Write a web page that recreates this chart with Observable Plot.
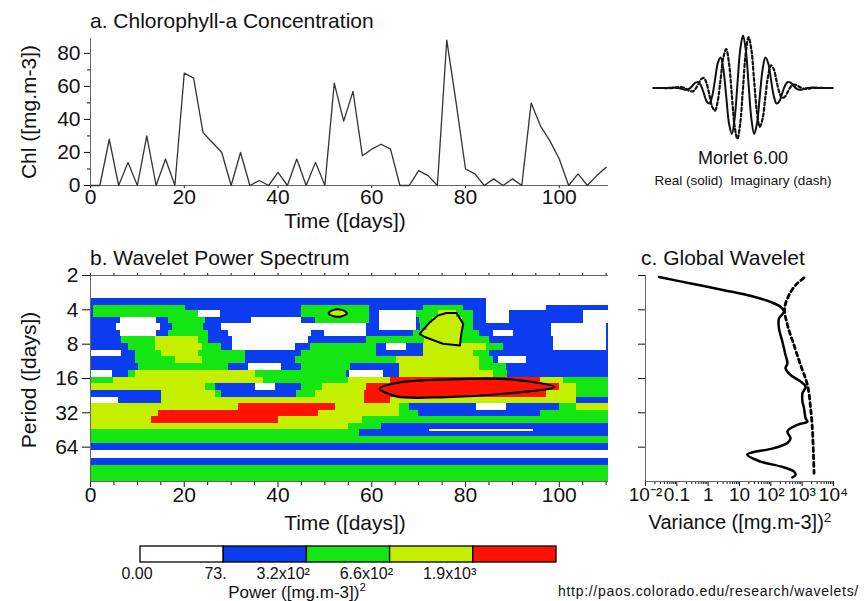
<!DOCTYPE html>
<html><head><meta charset="utf-8">
<script src="https://cdn.jsdelivr.net/npm/d3@7"></script>
<script src="https://cdn.jsdelivr.net/npm/@observablehq/plot@0.6"></script>
<style>
html,body{margin:0;padding:0;background:#fff;}
#fig{position:relative;width:868px;height:601px;overflow:hidden;background:#fff;font-family:"Liberation Sans",Arial,Helvetica,sans-serif;color:#111;}
#fig svg{position:absolute;overflow:visible;}
.t{position:absolute;white-space:nowrap;line-height:1;}
.t sup{font-size:0.68em;vertical-align:0.55em;line-height:0;}
</style></head><body><div id="fig"></div>
<script>
// ---------- Panel a: chlorophyll time series ----------
const days = [0,2,4,6,8,10,12,14,16,18,20,22,24,26,28,30,32,34,36,38,40,42,44,46,48,50,52,54,56,58,60,62,64,66,68,70,72,74,76,78,80,82,84,86,88,90,92,94,96,98,100,102,104,106,108,110];
const chl = [0,0,28,0,14,0,30,0,16,0,68,65,32,26,20,0,20,0,3,0,8,0,16,0,14,0,62,39,57,18,22,25,22,0,0,9,6,0,88,50,10,7,0,4,0,4,0,50,36,27,16,0,7,0,6,11];
const timeTicks = [0,20,40,60,80,100];
const timeMinor = [5,10,15,25,30,35,45,50,55,65,70,75,85,90,95,105,110];
const chlTicks = [0,20,40,60,80];
const chlMinor = [10,30,50,70];

// ---------- Morlet wavelet ----------
const eta = [-4,-3.875,-3.75,-3.625,-3.5,-3.375,-3.25,-3.125,-3,-2.875,-2.75,-2.625,-2.5,-2.375,-2.25,-2.125,-2,-1.875,-1.75,-1.625,-1.5,-1.375,-1.25,-1.125,-1,-0.875,-0.75,-0.625,-0.5,-0.375,-0.25,-0.125,0,0.125,0.25,0.375,0.5,0.625,0.75,0.875,1,1.125,1.25,1.375,1.5,1.625,1.75,1.875,2,2.125,2.25,2.375,2.5,2.625,2.75,2.875,3,3.125,3.25,3.375,3.5,3.625,3.75,3.875,4];
const morletReal = [0,0,0,0,-0.001,0,0.003,0.006,0.005,0,-0.012,-0.024,-0.025,-0.005,0.036,0.077,0.086,0.033,-0.077,-0.190,-0.222,-0.113,0.119,0.356,0.437,0.262,-0.120,-0.507,-0.656,-0.440,0.051,0.545,0.751,0.545,0.051,-0.440,-0.656,-0.507,-0.120,0.262,0.437,0.356,0.119,-0.113,-0.222,-0.190,-0.077,0.033,0.086,0.077,0.036,-0.005,-0.025,-0.024,-0.012,0,0.005,0.006,0.003,0,-0.001,0,0,0,0];
const morletImag = [0,0,0,0,-0.001,-0.002,-0.002,0.001,0.006,0.012,0.012,0.001,-0.021,-0.044,-0.048,-0.014,0.055,0.125,0.143,0.064,-0.100,-0.269,-0.323,-0.180,0.127,0.440,0.554,0.353,-0.094,-0.545,-0.726,-0.508,0,0.508,0.726,0.545,0.094,-0.353,-0.554,-0.440,-0.127,0.180,0.323,0.269,0.100,-0.064,-0.143,-0.125,-0.055,0.014,0.048,0.044,0.021,-0.001,-0.012,-0.012,-0.006,-0.001,0.002,0.002,0.001,0,0,0,0];

// ---------- Panel b: wavelet power spectrum (banded levels) ----------
// period edges of each row (days); each run string: level letter + end time (days)
const specEdges = [2,3.20,3.66,4.06,4.63,5.31,6.06,6.92,7.94,9.06,10.34,11.88,13.55,15.56,17.75,20.25,23.26,26.54,30.27,34.78,39.67,45.25,46.36,51.98,59.30,68.12,80.45,91.77,128];
const specRuns = [
  "W111",
  "B84.5 W111",
  "B0.7 G20.2 B45.1 G59.6 B71 G79.5 B84.5 W97.3 B111",
  "B0.7 G23.1 W27.7 B45.1 G51.2 Y54.4 G59.6 B61.7 W69.5 G74.2 Y78.1 G81.6 B84.5 W89.4 B105.1 W110.4 B111",
  "B6.5 W14 B16.7 G24.5 B34.4 W45.1 B48 G59.6 B61.7 W69.5 B70.2 G73 Y79.3 G81.6 B84.5 W89.4 B105.1 W110.4 B111",
  "B5.6 W14.9 B17.4 G24.1 B28 W58.9 B61.7 W69.5 B70.5 G71.8 Y79.4 G81.6 B98.3 W110 B111",
  "B6.5 W14 B16.7 G25.2 B29.5 W47.2 B50 W58.9 B69 G70.8 Y79.2 G83 B85.9 W90.2 B98.3 W110 B111",
  "B6.7 G13.8 Y23.1 G25.2 B30.2 W46.5 B58.9 G71.3 Y79 G85.2 B98.7 W110 B111",
  "B8.1 G13.8 Y23.8 G28 B30.2 W43.7 B47 G61 B63.1 W67.4 B71 Y84.5 G88 B98.7 W110 B111",
  "W6.7 B9.6 G15.2 Y23.1 G33 B45.1 G61 B71 Y81.6 G85.2 B111",
  "B9.6 G18.1 Y23.8 G33 B43.7 G65.3 Y83 G85.9 B87 W93 B111",
  "B10.3 G29.5 B33.7 W40.8 B45.1 G55.5 B66 Y83 G88.7 B111",
  "W4.6 B8.1 G9.6 Y35.1 G54.6 B55.3 W62.4 B66 Y86 G89 B111",
  "G5 Y37 G55 Y64 R96 Y101 G111",
  "Y24.5 G26.6 B35.1 W39.4 B45.1 G49.4 Y58.9 R100.1 Y103.7 G111",
  "B15.2 Y26.6 G28 B44 G48 Y58.5 R97.3 Y103.7 G111",
  "W6 B15.2 Y58.5 R64 Y103.7 B111",
  "Y31.6 R52.2 Y66 G68 B82.3 W88.7 B100 G103.7 Y111",
  "Y14.5 R48.7 Y66 G70 B96 G111",
  "Y13 R40 Y58 G111",
  "Y55 G62 B111",
  "G57.4 B72.4 W94.4 B111",
  "G57.4 B111",
  "G111",
  "B111",
  "W111",
  "B111",
  "G111"
];
const levelCodes = "WBGYR";
const levelColors = ["#ffffff","#0b3cf0","#14e614","#c4f000","#ff1200"];
const periodTicks = [2,4,8,16,32,64];

// significance contours (time in days, period in days)
const contourSmallT = [50.8,51.9,53.6,54.7,53.6,51.9];
const contourSmallP = [4.29,4.0,4.0,4.29,4.56,4.56];
const contourMidT = [70.2,72.4,74.2,75.9,78.1,79.5,79.1,78.8,75.2,71.3];
const contourMidP = [6.50,5.13,4.47,4.26,4.26,5.31,6.50,8.22,7.94,6.92];
const contourRedT = [61.7,65.3,75.9,90.2,99.0,90.2,75.9,65.3];
const contourRedP = [19.56,17.51,16.34,16.34,19.03,21.41,23.26,22.94];

// ---------- Panel c: global wavelet ----------
const globalPeriod = [2.06,2.35,2.69,3.01,3.41,3.76,4.17,4.76,5.82,7.62,9.99,11.8,13.0,14.9,17.0,18.9,21.6,25.5,29.2,35.8,38.1,40.8,46.5,53.4,58.9,65.3,74.5,85.6,94.4,104.7,112.2,117.8];
const globalPower = [0.027,0.28,3.2,22,98,204,263,182,182,234,295,339,295,427,891,1288,1023,1023,1148,1288,1479,708,339,427,339,126,17.8,46.8,204,550,617,490];
const sigPeriod = [2.10,2.43,2.97,3.89,5.43,8.17,12.2,18.3,29.2,46.5,74.5,108.4];
const sigPower = [1148,617,380,275,339,550,891,1479,1862,2138,2291,2399];
const varTicks = [0.01,0.1,1,10,100,1000,10000];
const varTickLabels = ["10\u207B\u00B2","0.1","1","10","10\u00B2","10\u00B3","10\u2074"];

// ---------- Colour bar ----------
const powerTickLabels = ["0.00","73.","3.2x10\u00B2","6.6x10\u00B2","1.9x10\u00B3"];
const powerLevels = [0,1,2,3,4];

// ================= drawing =================
const FONT = '"Liberation Sans", Arial, Helvetica, sans-serif';
const fig = document.getElementById("fig");
const baseStyle = {fontFamily: FONT, fontSize: "21px", background: "transparent", color: "#111", overflow: "visible"};
function put(svg, left, top) { svg.style.left = left + "px"; svg.style.top = top + "px"; fig.appendChild(svg); }
function txt(html, x, y, size, anchor = "start", rot = 0, extra = "") {
  const d = document.createElement("div");
  d.className = "t"; d.innerHTML = html;
  d.style.fontSize = size + "px"; d.style.left = x + "px"; d.style.top = y + "px";
  if (extra) d.style.cssText += extra;
  const tx = anchor === "middle" ? "-50%" : anchor === "end" ? "-100%" : "0";
  d.style.transform = `translate(${tx},-50%)` + (rot ? ` rotate(${rot}deg)` : "");
  fig.appendChild(d);
}
const blank = () => "";

// Panel a
const chlData = days.map((t, i) => ({t, v: chl[i]}));
put(Plot.plot({
  width: 620, height: 230, marginLeft: 90, marginRight: 12, marginTop: 38, marginBottom: 45,
  style: baseStyle,
  x: {domain: [0, 110.5]},
  y: {domain: [0, 89]},
  marks: [
    Plot.axisX({ticks: timeTicks, tickSize: 3, tickPadding: 1, label: null}),
    Plot.axisY({ticks: chlTicks, tickSize: 6, tickPadding: 4, label: null}),
    Plot.axisY({ticks: chlMinor, tickSize: 3, tickFormat: blank, label: null}),
    Plot.ruleX([0], {stroke: "#666"}),
    Plot.ruleY([0], {stroke: "#666"}),
    Plot.line(chlData, {x: "t", y: "v", stroke: "#333", strokeWidth: 1.3})
  ]
}), 0, 0);

// Morlet inset
const morletData = eta.map((e, i) => ({e, re: morletReal[i], im: morletImag[i]}));
put(Plot.plot({
  width: 248, height: 150, marginLeft: 33, marginRight: 36, marginTop: 28, marginBottom: 3,
  style: baseStyle,
  x: {domain: [-4, 4], axis: null},
  y: {domain: [-0.85, 0.85], axis: null},
  marks: [
    Plot.line(morletData, {x: "e", y: "re", stroke: "#111", strokeWidth: 2, curve: "catmull-rom"}),
    Plot.line(morletData, {x: "e", y: "im", stroke: "#111", strokeWidth: 2.2, strokeDasharray: "3,2.5", curve: "catmull-rom"})
  ]
}), 620, 0);

// Panel b
const specCells = [];
specRuns.forEach((row, i) => {
  let t0 = 0;
  row.split(" ").forEach(tok => {
    const t1 = +tok.slice(1);
    specCells.push({t1: t0, t2: t1, p1: specEdges[i], p2: specEdges[i + 1], lev: levelCodes.indexOf(tok[0])});
    t0 = t1;
  });
});
const mkContour = (T, P) => T.map((t, i) => ({t, p: P[i]}));
put(Plot.plot({
  width: 620, height: 270, marginLeft: 90, marginRight: 12, marginTop: 35, marginBottom: 29,
  style: baseStyle,
  x: {domain: [0, 110.5]},
  y: {type: "log", base: 2, domain: [2, 128], reverse: true},
  color: {type: "ordinal", domain: powerLevels, range: levelColors},
  marks: [
    Plot.rect(specCells, {x1: "t1", x2: "t2", y1: "p1", y2: "p2", fill: "lev", clip: true, shapeRendering: "crispEdges"}),
    Plot.line(mkContour(contourSmallT, contourSmallP), {x: "t", y: "p", stroke: "#000", strokeWidth: 2, curve: "catmull-rom-closed"}),
    Plot.line(mkContour(contourMidT, contourMidP), {x: "t", y: "p", stroke: "#000", strokeWidth: 2, curve: "linear-closed"}),
    Plot.line(mkContour(contourRedT, contourRedP), {x: "t", y: "p", stroke: "#000", strokeWidth: 2.2, curve: "catmull-rom-closed"}),
    Plot.axisX({ticks: timeTicks, tickSize: 6, tickPadding: 0, label: null}),
    Plot.axisX({ticks: timeMinor, tickSize: 4, tickFormat: blank, label: null}),
    Plot.axisX({anchor: "top", ticks: timeTicks.concat(timeMinor), tickSize: 3, tickFormat: blank, label: null}),
    Plot.axisY({ticks: periodTicks, tickSize: 8, tickPadding: 4, tickFormat: d => String(d), label: null}),
    Plot.ruleX([0], {stroke: "#666"}),
    Plot.ruleY([2], {stroke: "#666"}),
    Plot.ruleY([128], {stroke: "#666"})
  ]
}), 0, 240);

// Panel c
const varMinor = [];
for (let e = -2; e < 4; e++) for (let m = 2; m < 10; m++) varMinor.push(m * Math.pow(10, e));
const globalData = globalPeriod.map((p, i) => ({p, v: globalPower[i]}));
const sigData = sigPeriod.map((p, i) => ({p, v: sigPower[i]}));
put(Plot.plot({
  width: 248, height: 270, marginLeft: 25, marginRight: 35, marginTop: 35, marginBottom: 29,
  style: {...baseStyle, fontSize: "19px"},
  x: {type: "log", domain: [0.01, 10000]},
  y: {type: "log", base: 2, domain: [2, 128], reverse: true},
  marks: [
    Plot.axisX({ticks: varTicks, tickSize: 5, tickPadding: 1, tickFormat: d => varTickLabels[Math.round(Math.log10(d)) + 2], label: null}),
    Plot.axisX({ticks: varMinor, tickSize: 3, tickFormat: blank, label: null}),
    Plot.axisY({ticks: periodTicks, tickSize: 7, tickFormat: blank, label: null}),
    Plot.ruleX([0.01], {stroke: "#666"}),
    Plot.ruleY([128], {stroke: "#666"}),
    Plot.line(globalData, {x: "v", y: "p", stroke: "#000", strokeWidth: 2.5, curve: "catmull-rom"}),
    Plot.line(sigData, {x: "v", y: "p", stroke: "#000", strokeWidth: 2.8, strokeDasharray: "4,3.5", curve: "catmull-rom"})
  ]
}), 620, 240);

// Colour bar
put(Plot.plot({
  width: 620, height: 60, marginLeft: 140, marginRight: 64, marginTop: 11, marginBottom: 33,
  style: {...baseStyle, fontSize: "16px"},
  x: {domain: [0, 5], axis: null},
  y: {domain: [0, 1], axis: null},
  color: {type: "ordinal", domain: powerLevels, range: levelColors},
  marks: [
    Plot.rect(powerLevels, {x1: d => d, x2: d => d + 1, y1: 0, y2: 1, fill: d => d, stroke: "#000", strokeWidth: 1.3}),
    Plot.text(powerTickLabels.slice(0, 1), {x: 0, y: 0, text: d => d, dy: 11, dx: -19, textAnchor: "start", fontSize: 16, fill: "#111"}),
    Plot.text(powerTickLabels.slice(1), {x: (d, i) => i + 1, y: 0, text: d => d, dy: 11, dx: 3, textAnchor: "end", fontSize: 16, fill: "#111"})
  ]
}), 0, 535);

// Texts
txt("a. Chlorophyll-a Concentration", 90, 20, 21);
txt("Chl ([mg.m-3])", 28, 112, 21, "middle", -90);
txt("Time ([days])", 345, 220, 21, "middle");
txt("Morlet 6.00", 743, 158, 18, "middle");
txt("Real (solid)&nbsp; Imaginary (dash)", 743, 181, 13.5, "middle");
txt("b. Wavelet Power Spectrum", 90, 257, 21);
txt("Period ([days])", 28, 380, 21, "middle", -90);
txt("Time ([days])", 345, 522, 21, "middle");
txt("c. Global Wavelet", 641, 257, 21);
txt("Variance ([mg.m-3])<sup>2</sup>", 740, 522, 20, "middle");
txt("Power ([mg.m-3])<sup>2</sup>", 297, 592, 17, "middle");
txt("http://paos.colorado.edu/research/wavelets/", 558, 591, 14, "start", 0, "letter-spacing:0.7px;");
</script>
</body></html>
